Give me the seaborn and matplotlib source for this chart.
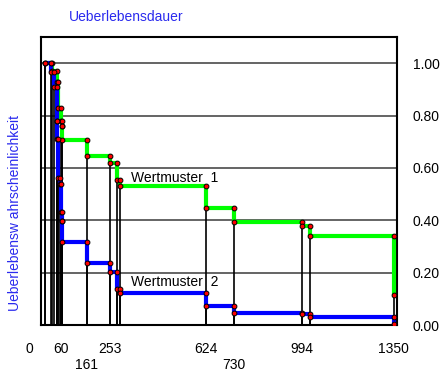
import matplotlib
matplotlib.use("Agg")
import matplotlib.pyplot as plt
import seaborn as sns
import numpy as np
import pandas as pd

# ---- data ----
green_t = [0, 25, 47, 51, 60, 67, 67, 161, 253, 278, 291, 624, 730, 994, 1025, 1350]
green_s = [1.0, 0.97, 0.93, 0.83, 0.78, 0.76, 0.708, 0.645, 0.62, 0.553, 0.532,
           0.448, 0.392, 0.378, 0.341, 0.113]
blue_t = [0, 21, 36, 47, 47, 51, 58, 62, 67, 67, 161, 253, 278, 291, 624, 730,
          994, 1025, 1350]
blue_s = [1.0, 0.966, 0.908, 0.779, 0.709, 0.56, 0.538, 0.433, 0.397, 0.316,
          0.238, 0.203, 0.137, 0.121, 0.0725, 0.047, 0.041, 0.03, 0.004]
series_names = ["Wertmuster  1", "Wertmuster  2"]
x_ticks = [60, 161, 253, 624, 730, 994, 1350]
x_tick_labels = ["60", "\n161", "253", "624", "\n730", "994", "1350"]
y_ticks = [0.0, 0.2, 0.4, 0.6, 0.8, 1.0]
y_tick_labels = ["0.00", "0.20", "0.40", "0.60", "0.80", "1.00"]
title = "Ueberlebensdauer"
ylabel = "Ueberlebensw ahrscheinlichkeit"

sns.set_style("white")
plt.rcParams["font.family"] = ["Liberation Sans", "DejaVu Sans"]
plt.rcParams["text.color"] = "black"
plt.rcParams["xtick.color"] = "black"
plt.rcParams["ytick.color"] = "black"
plt.rcParams["xtick.labelcolor"] = "black"
plt.rcParams["ytick.labelcolor"] = "black"

fig = plt.figure(figsize=(4.44, 3.72), dpi=100)
ax = fig.add_axes([0.0923, 0.1263, 0.894 - 0.0923, 0.9005 - 0.1263])


def corners(ts, ss):
    xs, ys = [ts[0]], [ss[0]]
    for i in range(1, len(ts)):
        xs += [ts[i], ts[i]]
        ys += [ss[i - 1], ss[i]]
    return xs, ys


# grid lines
for yv in y_ticks:
    ax.axhline(yv, color="#3a3a3a", lw=1.1, zorder=1)

# drop lines
for ts, ss in [(green_t, green_s), (blue_t, blue_s)]:
    tops = [ss[0]] + [ss[i - 1] for i in range(1, len(ts))]
    ax.vlines(ts, 0, tops, color="black", lw=1.2, zorder=2)

colors = ["#00ff00", "#0000ff"]
for (ts, ss), c in zip([(green_t, green_s), (blue_t, blue_s)], colors):
    df = pd.DataFrame({"t": ts, "s": ss})
    sns.lineplot(data=df, x="t", y="s", drawstyle="steps-post", sort=False,
                 estimator=None, color=c, lw=3.0, ax=ax, zorder=3)

for ts, ss in [(green_t, green_s), (blue_t, blue_s)]:
    xs, ys = corners(ts, ss)
    sns.scatterplot(x=xs, y=ys, color="#ff0000", edgecolor="black", s=12,
                    linewidth=0.7, ax=ax, zorder=5)

ax.text(333, 0.561, series_names[0], fontsize=10, va="center", ha="left", zorder=6)
ax.text(333, 0.164, series_names[1], fontsize=10, va="center", ha="left", zorder=6)

ax.set_xlim(-16, 1363)
ax.set_ylim(0, 1.1)
ax.set_xticks(x_ticks)
ax.set_xticklabels(x_tick_labels, fontsize=10, va="top")
ax.yaxis.tick_right()
ax.set_yticks(y_ticks)
ax.set_yticklabels(y_tick_labels, fontsize=10)
ax.tick_params(axis="x", length=0, pad=12)
ax.tick_params(axis="y", length=0, pad=11.5)
ax.set_xlabel("")
ax.set_ylabel("")
ax.annotate("0", xy=(-62, 0), xycoords=("data", "axes fraction"),
            xytext=(0, -12), textcoords="offset points",
            ha="center", va="top", fontsize=10, annotation_clip=False)

for sp in ax.spines.values():
    sp.set_visible(True)
    sp.set_color("black")
    sp.set_linewidth(1.5)

fig.text(69 / 444, 1 - 17 / 372, title, color="#2a2aee", fontsize=10,
         ha="left", va="center")
fig.text(15 / 444, 1 - 213 / 372, ylabel, color="#2a2aee", fontsize=10,
         ha="center", va="center", rotation=90)

fig.savefig("out.png", dpi=100)
